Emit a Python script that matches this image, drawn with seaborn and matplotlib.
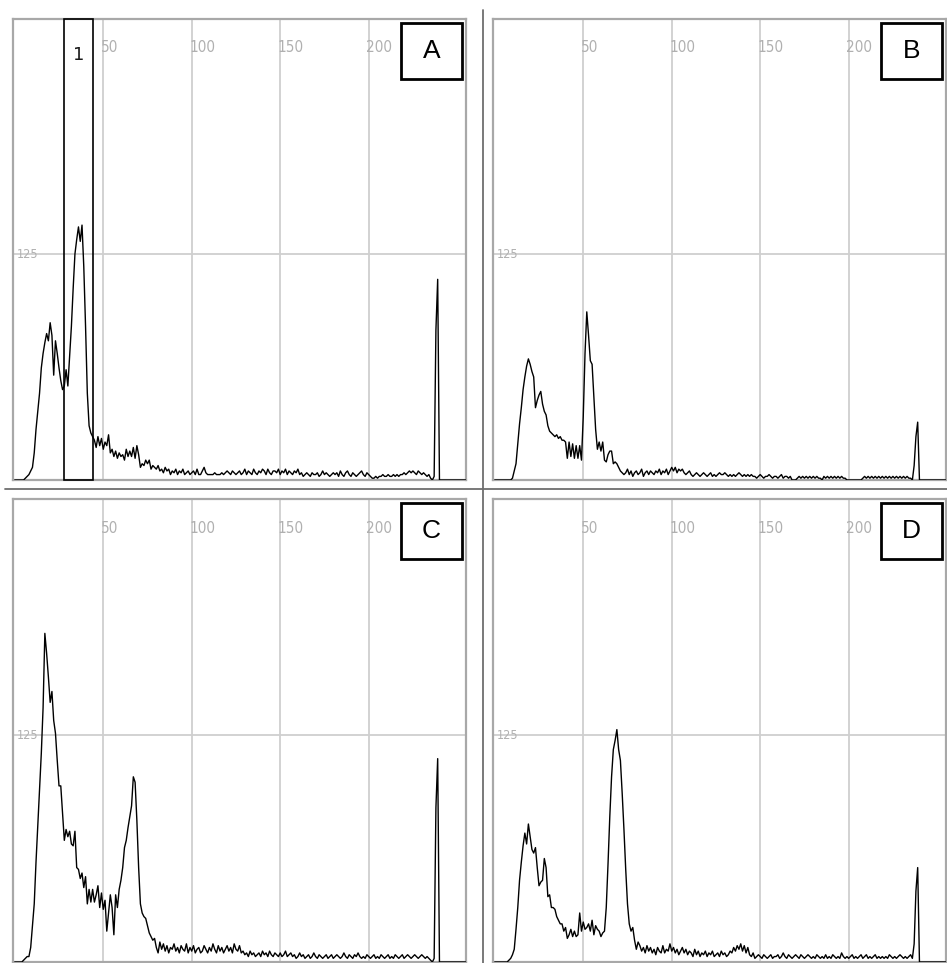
import numpy as np
import pandas as pd
import seaborn as sns
import matplotlib
matplotlib.use("Agg")
import matplotlib.pyplot as plt
from matplotlib.patches import Rectangle
from matplotlib.lines import Line2D
from matplotlib import font_manager

# ---------------- data (grey-level histograms, 0..255) ----------------
levels = list(range(256))

hist_a = [
    0, 0, 0, 0, 0, 0, 1, 2, 3, 5,            # 0
    7, 15, 28, 38, 48, 62, 70, 76, 81, 77,   # 10
    87, 80, 58, 77, 70, 62, 55, 50, 52, 61,  # 20
    52, 68, 85, 106, 125, 133, 140, 132, 141, 118,  # 30
    85, 48, 30, 26, 24, 22, 18, 24, 19, 23,  # 40
    17, 21, 19, 25, 15, 17, 13, 16, 12, 15,  # 50
    13, 14, 11, 17, 13, 16, 13, 18, 12, 19,  # 60
    14, 7, 9, 8, 11, 9, 11, 6, 8, 7,         # 70
    6, 8, 5, 6, 4, 7, 5, 6, 3, 5,            # 80
    4, 6, 3, 5, 4, 6, 3, 4, 5, 3,            # 90
    4, 5, 3, 6, 3, 3, 5, 7, 4, 3,            # 100
    3, 3, 3, 4, 3, 3, 3, 4, 3, 4,            # 110
    5, 4, 3, 5, 4, 3, 4, 5, 3, 4,            # 120
    6, 3, 5, 4, 3, 6, 4, 3, 5, 4,            # 130
    6, 5, 3, 6, 4, 3, 5, 5, 4, 6,            # 140
    3, 5, 4, 6, 3, 5, 4, 3, 5, 4,            # 150
    6, 3, 4, 2, 3, 4, 3, 2, 4, 3,            # 160
    3, 4, 2, 3, 5, 3, 4, 3, 2, 3,            # 170
    4, 3, 4, 2, 5, 3, 2, 4, 5, 3,            # 180
    2, 4, 3, 2, 3, 4, 5, 3, 2, 4,            # 190
    3, 2, 1, 1, 2, 1, 2, 2, 3, 2,            # 200
    2, 3, 2, 2, 3, 2, 3, 2, 3, 3,            # 210
    4, 3, 4, 5, 4, 5, 4, 3, 5, 4,            # 220
    3, 4, 3, 2, 3, 1, 0, 2, 83, 111,         # 230
    0, 0, 0, 0, 0, 0, 0, 0, 0, 0,            # 240
    0, 0, 0, 0, 0, 0,                        # 250
]

hist_b = [
    0, 0, 0, 0, 0, 0, 0, 0, 0, 0,
    1, 5, 9, 20, 31, 40, 50, 57, 63, 67,
    64, 60, 57, 40, 44, 47, 49, 42, 38, 36,
    30, 27, 26, 25, 24, 25, 23, 24, 22, 22,
    21, 12, 21, 13, 20, 12, 19, 12, 19, 11,
    35, 70, 93, 80, 66, 64, 46, 28, 17, 21,
    16, 21, 11, 10, 14, 16, 16, 9, 10, 9,
    7, 5, 4, 3, 4, 6, 3, 5, 2, 4,
    5, 3, 4, 6, 2, 4, 5, 3, 5, 4,
    3, 5, 4, 6, 3, 5, 4, 6, 3, 5,
    7, 5, 7, 4, 6, 5, 6, 4, 3, 4,
    5, 3, 2, 3, 4, 3, 2, 3, 4, 3,
    2, 3, 4, 2, 3, 2, 3, 4, 3, 3,
    4, 3, 2, 3, 2, 3, 2, 3, 4, 3,
    2, 3, 2, 3, 2, 3, 2, 2, 1, 2,
    3, 2, 1, 2, 2, 3, 2, 1, 2, 2,
    1, 2, 3, 1, 2, 2, 1, 2, 0, 0,
    0, 1, 2, 1, 2, 1, 2, 1, 2, 1,
    2, 1, 2, 1, 1, 0, 2, 1, 2, 1,
    2, 1, 2, 1, 2, 1, 2, 1, 1, 0,
    0, 0, 0, 0, 0, 0, 0, 0, 1, 2,
    1, 2, 1, 2, 1, 2, 1, 2, 1, 2,
    1, 2, 1, 2, 1, 2, 1, 2, 1, 2,
    1, 2, 1, 2, 1, 1, 0, 8, 24, 32,
    0, 0, 0, 0, 0, 0, 0, 0, 0, 0,
    0, 0, 0, 0, 0, 0,
]

hist_c = [
    0, 0, 0, 0, 0, 1, 2, 3, 3, 8,
    20, 32, 55, 75, 95, 115, 140, 181, 170, 157,
    143, 149, 133, 126, 111, 97, 97, 82, 67, 73,
    69, 72, 65, 64, 72, 52, 51, 46, 49, 41,
    47, 32, 40, 33, 40, 33, 37, 42, 30, 38,
    29, 34, 17, 27, 37, 30, 15, 37, 30, 40,
    45, 52, 63, 67, 74, 80, 86, 102, 99, 78,
    52, 32, 27, 25, 24, 20, 16, 14, 12, 13,
    8, 5, 11, 7, 10, 6, 9, 5, 8, 7,
    10, 6, 8, 5, 9, 7, 6, 10, 5, 8,
    6, 9, 5, 7, 8, 5, 6, 9, 7, 5,
    8, 6, 10, 7, 5, 9, 6, 8, 5, 7,
    9, 6, 8, 5, 10, 7, 6, 9, 5, 6,
    4, 5, 3, 6, 4, 5, 3, 4, 5, 3,
    6, 4, 5, 3, 6, 4, 3, 5, 4, 3,
    5, 3, 4, 6, 3, 4, 5, 3, 4, 2,
    3, 5, 3, 4, 2, 3, 4, 2, 3, 5,
    3, 2, 4, 3, 2, 3, 4, 2, 3, 4,
    2, 3, 4, 3, 2, 3, 5, 3, 2, 4,
    3, 2, 4, 3, 5, 3, 2, 3, 2, 4,
    3, 2, 3, 4, 2, 3, 2, 4, 3, 2,
    3, 4, 2, 3, 2, 4, 3, 2, 3, 4,
    2, 3, 4, 3, 2, 3, 4, 3, 2, 3,
    4, 3, 2, 3, 2, 1, 0, 2, 85, 112,
    0, 0, 0, 0, 0, 0, 0, 0, 0, 0,
    0, 0, 0, 0, 0, 0,
]

hist_d = [
    0, 0, 0, 0, 0, 0, 0, 0, 1, 2,
    4, 7, 18, 30, 45, 55, 64, 71, 65, 76,
    69, 62, 60, 63, 52, 42, 44, 45, 57, 52,
    36, 37, 30, 30, 29, 25, 23, 21, 21, 17,
    19, 13, 15, 18, 14, 17, 14, 15, 27, 17,
    22, 18, 19, 21, 17, 23, 15, 20, 18, 17,
    14, 16, 17, 30, 54, 80, 102, 117, 122, 128,
    117, 111, 93, 73, 51, 32, 21, 17, 19, 12,
    7, 11, 9, 6, 8, 5, 9, 6, 8, 5,
    7, 4, 8, 6, 5, 9, 5, 7, 6, 10,
    6, 8, 5, 7, 4, 6, 8, 5, 7, 4,
    6, 5, 3, 7, 4, 6, 3, 5, 4, 6,
    3, 5, 4, 6, 3, 4, 5, 3, 6, 4,
    5, 3, 4, 6, 5, 8, 6, 9, 7, 10,
    6, 9, 5, 8, 4, 3, 5, 2, 3, 4,
    3, 2, 4, 3, 2, 3, 4, 2, 3, 3,
    4, 2, 3, 5, 3, 2, 4, 3, 2, 3,
    4, 3, 2, 4, 3, 2, 3, 4, 3, 2,
    3, 2, 4, 3, 2, 3, 2, 4, 2, 3,
    2, 4, 3, 2, 3, 2, 5, 3, 2, 3,
    2, 3, 4, 2, 3, 2, 3, 4, 2, 3,
    4, 2, 3, 2, 3, 4, 2, 3, 2, 3,
    2, 3, 2, 4, 3, 2, 3, 2, 3, 4,
    3, 2, 3, 2, 3, 4, 2, 10, 39, 52,
    0, 0, 0, 0, 0, 0, 0, 0, 0, 0,
    0, 0, 0, 0, 0, 0,
]

panel_names = ["A", "B", "C", "D"]
x_grid = [50, 100, 150, 200]
y_grid = [125]
region_1 = (27.7, 44.0)   # marked grey-level range "1" in panel A

hists = {"A": hist_a, "B": hist_b, "C": hist_c, "D": hist_d}
df = pd.concat(
    [pd.DataFrame({"level": levels, "count": hists[p], "panel": p}) for p in panel_names],
    ignore_index=True,
)

# ---------------- style ----------------
sns.set_style("white")
names = {f.name for f in font_manager.fontManager.ttflist}
tick_family = "Liberation Sans Narrow" if "Liberation Sans Narrow" in names else "DejaVu Sans"
letter_family = "Liberation Sans" if "Liberation Sans" in names else "DejaVu Sans"

W, H = 947, 963
fig = plt.figure(figsize=(W / 100, H / 100), dpi=100)
fig.patch.set_facecolor("white")

def frac(left, top, w, h):
    return [left / W, 1 - (top + h) / H, w / W, h / H]

positions = {
    "A": frac(13, 19, 453, 461),
    "B": frac(493, 19, 453, 461),
    "C": frac(13, 499, 453, 463),
    "D": frac(493, 499, 453, 463),
}

grid_col = "#cfcfcf"
tick_col = "#b0b0b0"

for p in panel_names:
    ax = fig.add_axes(positions[p])
    sub = df[df["panel"] == p]
    sns.lineplot(data=sub, x="level", y="count", ax=ax, color="black",
                 linewidth=1.0, zorder=3)
    ax.set_xlim(-1, 255)
    ax.set_ylim(0, 255)
    ax.set_xticks(x_grid)
    ax.set_yticks(y_grid)
    ax.grid(True, color=grid_col, linewidth=1.3)
    ax.tick_params(length=0, labelbottom=False, labelleft=False)
    ax.set_xlabel("")
    ax.set_ylabel("")
    for s in ax.spines.values():
        s.set_color("#a8a8a8")
        s.set_linewidth(1.6)
    for t in x_grid:
        ax.text(t - 1.5, 239, str(t), ha="left", va="center", fontsize=11,
                color=tick_col, family=tick_family, fontstretch="condensed", zorder=2)
    ax.text(7.5, 125, "125", ha="center", va="center", fontsize=9,
            color=tick_col, family=tick_family, fontstretch="condensed", zorder=2)
    # letter box
    ax.add_patch(Rectangle((0.856, 0.870), 0.136, 0.121, transform=ax.transAxes,
                           facecolor="white", edgecolor="black", linewidth=2.0, zorder=5))
    ax.text(0.924, 0.930, p, transform=ax.transAxes, ha="center", va="center",
            fontsize=19, family=letter_family, color="black", zorder=6)
    if p == "A":
        ax.add_patch(Rectangle((region_1[0], 0), region_1[1] - region_1[0], 255,
                               facecolor="none", edgecolor="black", linewidth=1.2,
                               zorder=4, clip_on=False))
        ax.text((region_1[0] + region_1[1]) / 2, 235, "1", ha="center", va="center",
                fontsize=13, family="DejaVu Sans", color="#1a1a1a", zorder=6)

# separators between panels
fig.add_artist(Line2D([483 / W, 483 / W], [0, 1 - 10 / H], transform=fig.transFigure,
                      color="#6e6e6e", linewidth=1.3))
fig.add_artist(Line2D([5 / W, 1], [1 - 489 / H, 1 - 489 / H], transform=fig.transFigure,
                      color="#6e6e6e", linewidth=1.3))

fig.savefig("out.png", dpi=100, facecolor="white")
